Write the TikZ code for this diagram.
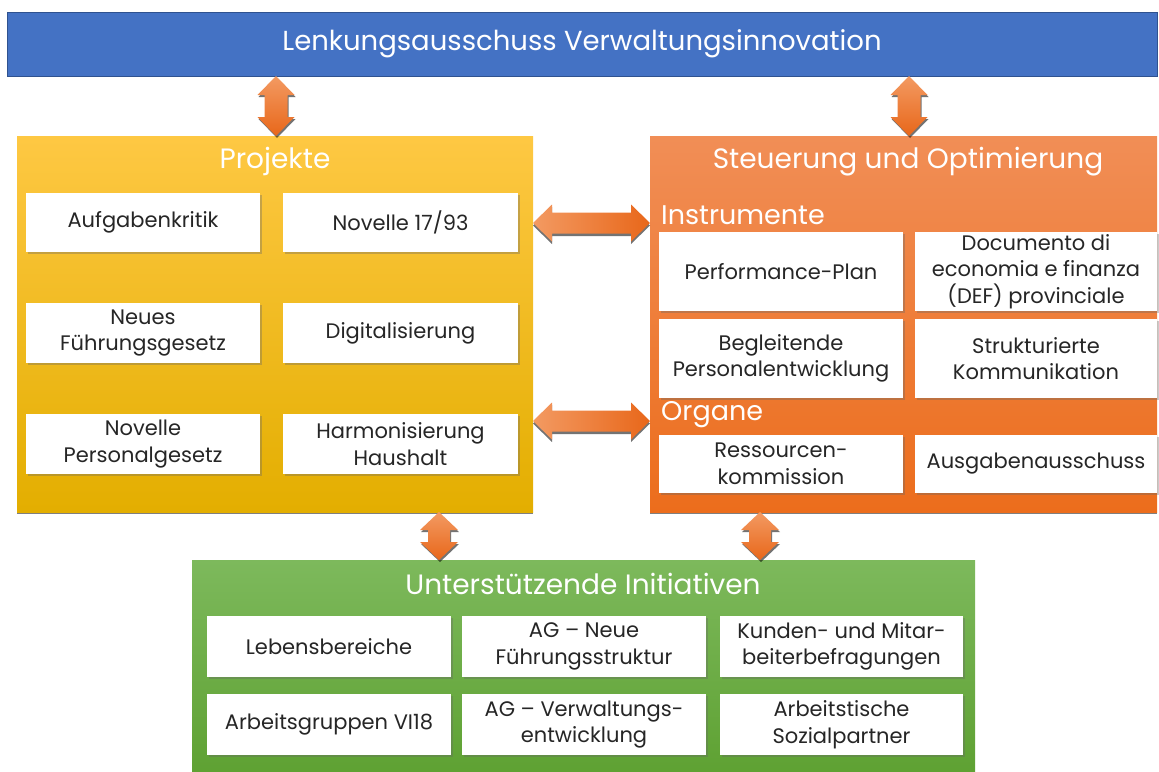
\documentclass[tikz,border=0pt]{standalone}
\usepackage{fontspec}
\setmainfont{Poppins}
\usetikzlibrary{shadows,calc}
\definecolor{lblue}{HTML}{4472C4}
\definecolor{lblueborder}{HTML}{2F528F}
\definecolor{yeltop}{HTML}{FEC843}
\definecolor{yelbot}{HTML}{E3AE00}
\definecolor{orgtop}{HTML}{F18E56}
\definecolor{orgbot}{HTML}{EC6D1C}
\definecolor{grntop}{HTML}{7DB95C}
\definecolor{grnbot}{HTML}{5EA132}
\definecolor{arrlight}{HTML}{F39A62}
\definecolor{arrdark}{HTML}{E8671A}
\definecolor{txt}{HTML}{262626}
\tikzset{
  itembox/.style={draw=none, fill=white, text=txt, align=center,
    font=\fontsize{21}{26.5}\selectfont, inner sep=2pt,
    drop shadow={shadow xshift=1.5pt, shadow yshift=-2pt, opacity=0.35, fill=black!60}},
  grouptitle/.style={text=white, font=\fontsize{28}{32}\selectfont, inner sep=0pt},
  subtitle/.style={text=white, font=\fontsize{27}{30}\selectfont, inner sep=0pt, anchor=west},
  panelshadow/.style={drop shadow={shadow xshift=0pt, shadow yshift=-1.5pt, opacity=0.5, fill=black}},
  vshade/.style={top color=arrlight, bottom color=arrdark,
    drop shadow={shadow xshift=1pt, shadow yshift=-2pt, opacity=0.55, fill=black}},
  hshade/.style={left color=arrlight, right color=arrdark,
    drop shadow={shadow xshift=0pt, shadow yshift=-2.5pt, opacity=0.55, fill=black}},
}
% vertical block arrow: centre x, top y, bottom y, shaft half width, head half width, head length
\newcommand\vblockarrow[6]{%
  \path[vshade] (#1,#2) -- ({#1+#5},{#2+#6}) -- ({#1+#4},{#2+#6}) -- ({#1+#4},{#3-#6})
    -- ({#1+#5},{#3-#6}) -- (#1,#3) -- ({#1-#5},{#3-#6}) -- ({#1-#4},{#3-#6})
    -- ({#1-#4},{#2+#6}) -- ({#1-#5},{#2+#6}) -- cycle;}
% horizontal block arrow: centre y, left x, right x, shaft half width, head half width, head length
\newcommand\hblockarrow[6]{%
  \path[hshade] (#2,#1) -- ({#2+#6},{#1-#5}) -- ({#2+#6},{#1-#4}) -- ({#3-#6},{#1-#4})
    -- ({#3-#6},{#1-#5}) -- (#3,#1) -- ({#3-#6},{#1+#5}) -- ({#3-#6},{#1+#4})
    -- ({#2+#6},{#1+#4}) -- ({#2+#6},{#1+#5}) -- cycle;}
\begin{document}
\begin{tikzpicture}[x=1pt,y=-1pt]
\useasboundingbox (0,0) rectangle (1159,771);

% steering committee bar
\node[draw=lblueborder, line width=0.8pt, fill=lblue, minimum width=1150pt, minimum height=64pt,
  inner sep=0pt, text=white, font=\fontsize{27.5}{31}\selectfont] (lenk) at (582,44) {Lenkungsausschuss Verwaltungsinnovation};

% group panels
\node[top color=yeltop, bottom color=yelbot, minimum width=516pt, minimum height=376pt, inner sep=0pt, panelshadow] (proj) at (275,324) {};
\node[top color=orgtop, bottom color=orgbot, minimum width=507pt, minimum height=376pt, inner sep=0pt, panelshadow] (steu) at (903.5,324) {};
\node[top color=grntop, bottom color=grnbot, minimum width=783pt, minimum height=215pt, inner sep=0pt] (unt) at (583.5,667.5) {};

% panel titles
\node[grouptitle] (projT) at (275,161) {Projekte};
\node[grouptitle] (steuT) at (908,162) {Steuerung und Optimierung};
\node[subtitle] (instr) at (661,215) {Instrumente};
\node[subtitle] (organe) at (661,415) {Organe};
\node[grouptitle] (untT) at (583,584) {Unterstützende Initiativen};

% Projekte items
\node[itembox, minimum width=234pt, minimum height=59pt] (p1) at (143,222.5) {Aufgabenkritik};
\node[itembox, minimum width=235pt, minimum height=59pt] (p2) at (400.5,222.5) {Novelle 17/93};
\node[itembox, minimum width=234pt, minimum height=60pt] (p3) at (143,333) {Neues\\Führungsgesetz};
\node[itembox, minimum width=235pt, minimum height=60pt] (p4) at (400.5,333) {Digitalisierung};
\node[itembox, minimum width=234pt, minimum height=60pt] (p5) at (143,444) {Novelle\\Personalgesetz};
\node[itembox, minimum width=235pt, minimum height=60pt] (p6) at (400.5,444) {Harmonisierung\\Haushalt};

% Steuerung items
\node[itembox, minimum width=244pt, minimum height=79pt] (s1) at (781,271.5) {Performance-Plan};
\node[itembox, minimum width=242pt, minimum height=79pt] (s2) at (1036,271.5) {Documento di\\economia e finanza\\(DEF) provinciale};
\node[itembox, minimum width=244pt, minimum height=79pt] (s3) at (781,358.5) {Begleitende\\Personalentwicklung};
\node[itembox, minimum width=242pt, minimum height=79pt] (s4) at (1036,358.5) {Strukturierte\\Kommunikation};
\node[itembox, minimum width=244pt, minimum height=58pt] (s5) at (781,464) {Ressourcen-\\kommission};
\node[itembox, minimum width=242pt, minimum height=58pt] (s6) at (1036,464) {Ausgabenausschuss};

% Unterstützende Initiativen items
\node[itembox, minimum width=244pt, minimum height=61pt] (u1) at (329,646.5) {Lebensbereiche};
\node[itembox, minimum width=244pt, minimum height=61pt] (u2) at (584,646.5) {AG – Neue\\Führungsstruktur};
\node[itembox, minimum width=243pt, minimum height=61pt] (u3) at (841.5,646.5) {Kunden- und Mitar-\\beiterbefragungen};
\node[itembox, minimum width=244pt, minimum height=61pt] (u4) at (329,724.5) {Arbeitsgruppen VI18};
\node[itembox, minimum width=244pt, minimum height=61pt] (u5) at (584,724.5) {AG – Verwaltungs-\\entwicklung};
\node[itembox, minimum width=243pt, minimum height=61pt] (u6) at (841.5,724.5) {Arbeitstische\\Sozialpartner};

% block arrows between the panels
\vblockarrow{276}{76}{136}{11.5}{18.5}{19}
\vblockarrow{909}{76}{136}{11.5}{18.5}{19}
\hblockarrow{223}{533}{650}{10.5}{18.5}{19}
\hblockarrow{421}{533}{650}{10.5}{18.5}{19}
\vblockarrow{439}{512}{560}{11}{19}{18}
\vblockarrow{760}{512}{560}{11}{19}{18}
\end{tikzpicture}
\end{document}
